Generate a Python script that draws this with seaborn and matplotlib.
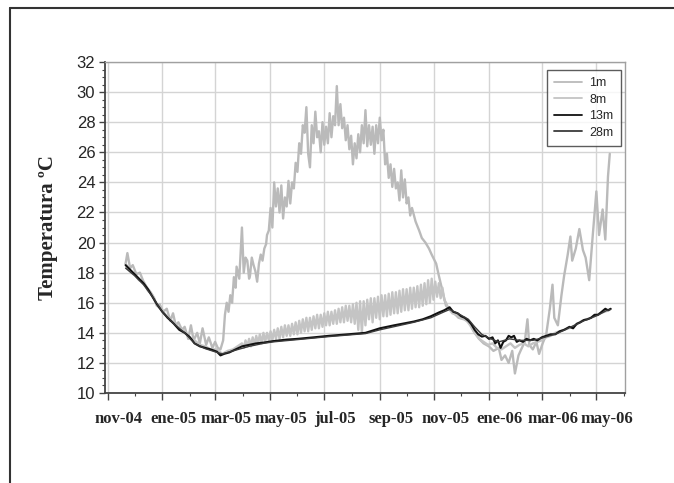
import pandas as pd
import matplotlib
matplotlib.use("Agg")
import matplotlib.pyplot as plt
import matplotlib.dates as mdates
from matplotlib.transforms import ScaledTranslation
from matplotlib.lines import Line2D
import seaborn as sns

# (dias desde 1-nov-2004, temperatura)
start = pd.Timestamp("2004-11-01")

s_1m = [(20, 18.6), (22, 19.3), (25, 18.3), (28, 18.5), (32, 17.9), (36, 18.0), (40, 17.4),
        (44, 17.0), (48, 16.7), (52, 16.3), (55, 15.8), (58, 15.9), (62, 15.4), (66, 15.6),
        (70, 14.8), (73, 15.3), (76, 14.5), (79, 14.7), (83, 14.2), (86, 14.4), (90, 13.6),
        (93, 14.5), (96, 13.5), (100, 14.0), (103, 13.3), (106, 14.3), (110, 13.2), (113, 13.7),
        (117, 13.0), (120, 13.4), (123, 13.0), (126, 12.9), (129, 13.5), (131, 15.2), (133, 16.0),
        (135, 15.4), (137, 16.5), (139, 16.0), (141, 17.7), (143, 17.0), (144, 18.4), (147, 17.6),
        (150, 21.0), (152, 18.0), (154, 19.0), (156, 18.8), (158, 17.6), (159, 17.8), (161, 19.0),
        (163, 18.5), (165, 18.1), (167, 17.4), (169, 18.6), (171, 19.2), (173, 18.8), (175, 19.6),
        (177, 19.9), (178, 20.5), (180, 20.8), (182, 22.3), (184, 21.0), (186, 24.0), (188, 22.4),
        (190, 23.6), (192, 22.0), (194, 23.8), (196, 21.6), (198, 23.0), (200, 22.4), (202, 24.1),
        (204, 22.6), (206, 24.0), (208, 23.6), (210, 25.3), (212, 24.7), (214, 26.6), (216, 25.9),
        (218, 27.8), (220, 27.3), (222, 29.0), (224, 25.9), (226, 25.0), (228, 27.8), (230, 26.6),
        (232, 28.7), (234, 27.0), (236, 27.4), (238, 26.0), (240, 28.0), (242, 26.5), (244, 27.7),
        (246, 26.6), (248, 28.6), (250, 27.0), (252, 28.4), (254, 27.8), (256, 30.4), (258, 27.8),
        (260, 29.2), (262, 27.6), (264, 28.3), (266, 26.8), (268, 27.8), (270, 26.2), (272, 27.1),
        (274, 25.2), (276, 26.6), (278, 25.6), (280, 27.2), (282, 26.0), (284, 27.8), (286, 26.6),
        (288, 28.8), (290, 26.4), (292, 27.8), (294, 26.5), (296, 27.7), (298, 25.9), (300, 27.8),
        (302, 26.6), (304, 28.3), (306, 26.8), (308, 27.5), (310, 25.2), (312, 25.9), (314, 24.3),
        (316, 25.2), (318, 23.7), (320, 24.9), (322, 23.6), (324, 24.0), (326, 22.8), (328, 24.8),
        (330, 23.0), (332, 24.2), (334, 22.6), (336, 23.0), (338, 21.8), (340, 22.3), (344, 21.4),
        (348, 20.8), (351, 20.3), (355, 20.0), (359, 19.6), (362, 19.2), (367, 18.6), (370, 17.8),
        (374, 16.8), (378, 15.8), (382, 15.6), (387, 15.3), (392, 15.0), (398, 14.9), (404, 14.7),
        (409, 14.1), (415, 13.6), (420, 13.3), (426, 13.1), (431, 12.8), (437, 13.0), (440, 12.2),
        (444, 12.5), (448, 12.0), (452, 12.8), (455, 11.3), (459, 12.5), (462, 12.9), (466, 13.4),
        (469, 14.9), (471, 13.2), (475, 12.9), (479, 13.4), (482, 12.6), (486, 13.3), (490, 13.9),
        (494, 15.6), (497, 17.2), (499, 15.0), (503, 14.5), (507, 16.5), (510, 17.8), (514, 19.2),
        (517, 20.4), (519, 18.8), (523, 19.6), (527, 20.9), (531, 19.5), (534, 19.0), (538, 17.5),
        (542, 20.5), (546, 23.4), (549, 20.5), (553, 22.2), (556, 20.2), (559, 24.4), (561, 25.9)]

s_8m = [(20, 18.6), (25, 18.1), (30, 17.9), (35, 17.5), (40, 17.4), (45, 16.8), (50, 16.5),
        (55, 15.8), (61, 15.5), (67, 15.0), (74, 14.7), (80, 14.3), (86, 14.1), (92, 13.6),
        (97, 13.5), (103, 13.2), (109, 13.1), (115, 12.9), (122, 12.9), (128, 12.6), (134, 12.8),
        (140, 12.9), (145, 13.1), (150, 13.3), (152, 13.0), (154, 13.5), (156, 13.1), (158, 13.6),
        (160, 13.1), (162, 13.7), (164, 13.2), (166, 13.8), (168, 13.3), (170, 13.9), (172, 13.3),
        (174, 14.0), (176, 13.4), (178, 14.0), (180, 13.5), (182, 14.1), (184, 13.5), (186, 14.2),
        (188, 13.6), (190, 14.3), (192, 13.6), (194, 14.4), (196, 13.7), (198, 14.5), (200, 13.8),
        (202, 14.5), (204, 13.8), (206, 14.6), (208, 13.9), (210, 14.7), (212, 13.9), (214, 14.8),
        (216, 14.0), (218, 14.9), (220, 14.1), (222, 15.0), (224, 14.1), (226, 15.0), (228, 14.2),
        (230, 15.1), (232, 14.3), (234, 15.2), (236, 14.3), (238, 15.2), (240, 14.4), (242, 15.3),
        (244, 14.5), (246, 15.4), (248, 14.5), (250, 15.4), (252, 14.6), (254, 15.5), (256, 14.6),
        (258, 15.6), (260, 14.7), (262, 15.7), (264, 14.7), (266, 15.8), (268, 14.8), (270, 15.8),
        (272, 14.7), (274, 15.9), (276, 14.6), (278, 16.0), (280, 14.2), (282, 16.1), (284, 14.0),
        (286, 16.1), (288, 14.5), (290, 16.2), (292, 14.9), (294, 16.3), (296, 14.7), (298, 16.3),
        (300, 15.0), (302, 16.4), (304, 14.9), (306, 16.5), (308, 15.1), (310, 16.5), (312, 15.1),
        (314, 16.6), (316, 15.2), (318, 16.7), (320, 15.3), (322, 16.7), (324, 15.3), (326, 16.8),
        (328, 15.4), (330, 16.9), (332, 15.5), (334, 16.9), (336, 15.5), (338, 17.0), (340, 15.6),
        (342, 17.0), (344, 15.7), (346, 17.1), (348, 15.7), (350, 17.2), (352, 15.8), (354, 17.3),
        (356, 15.9), (358, 17.5), (360, 16.0), (362, 17.6), (364, 16.2), (366, 17.4), (368, 16.4),
        (370, 17.3), (372, 16.3), (374, 17.0), (376, 16.2), (378, 16.0), (380, 15.7), (385, 15.3),
        (390, 15.2), (395, 15.0), (400, 14.9), (405, 14.5), (410, 14.0), (415, 13.6), (420, 13.4),
        (425, 13.2), (430, 13.3), (435, 13.0), (440, 12.9), (445, 13.1), (450, 13.3), (455, 13.0),
        (460, 13.2), (465, 13.3), (470, 13.1), (475, 13.3), (480, 13.4), (485, 13.5), (490, 13.7),
        (495, 13.8), (500, 14.0), (510, 14.2), (520, 14.4), (530, 14.8), (540, 15.0), (550, 15.3),
        (560, 15.5)]

s_13m = [(20, 18.5), (25, 18.2), (30, 17.9), (35, 17.6), (40, 17.3), (45, 16.9), (50, 16.4),
         (55, 15.9), (61, 15.4), (67, 15.0), (74, 14.6), (80, 14.2), (86, 14.0), (92, 13.7),
         (97, 13.3), (103, 13.1), (109, 13.0), (115, 12.9), (122, 12.75), (126, 12.5), (130, 12.6),
         (136, 12.7), (143, 12.9), (150, 13.1), (158, 13.2), (166, 13.3), (174, 13.35), (185, 13.45),
         (200, 13.55), (212, 13.6), (230, 13.7), (247, 13.8), (268, 13.9), (288, 14.0), (304, 14.3),
         (320, 14.5), (342, 14.75), (352, 14.9), (361, 15.1), (370, 15.35), (376, 15.5), (382, 15.7),
         (386, 15.4), (391, 15.3), (395, 15.1), (399, 15.0), (403, 14.8), (406, 14.6), (410, 14.2),
         (414, 13.9), (418, 13.75), (422, 13.8), (426, 13.6), (430, 13.7), (433, 13.3), (436, 13.5),
         (439, 13.0), (442, 13.4), (445, 13.5), (448, 13.8), (451, 13.7), (454, 13.8), (457, 13.4),
         (460, 13.5), (464, 13.4), (468, 13.6), (472, 13.5), (476, 13.6), (480, 13.5), (485, 13.7),
         (490, 13.8), (495, 13.9), (500, 13.9), (505, 14.1), (510, 14.2), (516, 14.4), (520, 14.3),
         (524, 14.6), (528, 14.7), (532, 14.85), (536, 14.9), (540, 15.0), (544, 15.2), (548, 15.2),
         (552, 15.4), (556, 15.6), (559, 15.5), (562, 15.6)]

s_28m = [(20, 18.3), (30, 17.8), (40, 17.2), (50, 16.4), (61, 15.4), (74, 14.6), (86, 14.0),
         (97, 13.3), (109, 12.95), (122, 12.7), (128, 12.6), (143, 12.85), (158, 13.1), (174, 13.3),
         (185, 13.4), (212, 13.55), (247, 13.75), (288, 13.95), (304, 14.2), (342, 14.7), (361, 15.0),
         (376, 15.4), (382, 15.55), (391, 15.3), (403, 14.9), (410, 14.4), (418, 13.9), (428, 13.6),
         (437, 13.4), (449, 13.6), (460, 13.5), (475, 13.5), (485, 13.65), (502, 13.95), (516, 14.35),
         (532, 14.8), (547, 15.15), (558, 15.5), (562, 15.55)]

tick_dates = ["2004-11-01", "2005-01-01", "2005-03-01", "2005-05-01", "2005-07-01",
              "2005-09-01", "2005-11-01", "2006-01-01", "2006-03-01", "2006-05-01"]
tick_labels = ["nov-04", "ene-05", "mar-05", "may-05", "jul-05", "sep-05", "nov-05",
               "ene-06", "mar-06", "may-06"]

series = [("1m", s_1m, "#bababa", 1.7),
          ("8m", s_8m, "#c4c4c4", 1.7),
          ("13m", s_13m, "#111111", 1.5),
          ("28m", s_28m, "#3a3a3a", 1.0)]

sns.set_style("white")
plt.rcParams["font.family"] = ["Liberation Sans", "DejaVu Sans"]

fig = plt.figure(figsize=(6.74, 4.83), dpi=100)
ax = fig.add_axes([0.1558, 0.1863, 0.7715, 0.6853])

for name, pts, col, lw in series:
    days = [p[0] for p in pts]
    temps = [p[1] for p in pts]
    x = start + pd.to_timedelta(days, unit="D")
    sns.lineplot(x=x, y=temps, ax=ax, color=col, linewidth=lw, label=name,
                 estimator=None, sort=False)

ax.set_xlim(pd.Timestamp("2004-10-29"), pd.Timestamp("2006-06-02"))
ax.set_ylim(10, 32)
ax.set_yticks(range(10, 33, 2))
ax.set_yticks([v / 2 for v in range(20, 65)], minor=True)
ax.set_xticks(pd.to_datetime(tick_dates))
ax.set_xticklabels(tick_labels, fontfamily="Liberation Serif", fontweight="bold", fontsize=12)
ax.xaxis.set_minor_locator(mdates.MonthLocator())
ax.tick_params(axis="y", which="major", labelsize=12, length=4, width=1, color="#444", pad=3,
               direction="out", left=True)
ax.tick_params(axis="y", which="minor", length=2.5, width=0.8, color="#444", left=True)
ax.tick_params(axis="x", which="major", length=5, width=1, color="#444", pad=8,
               direction="out", bottom=True)
ax.tick_params(axis="x", which="minor", length=2, width=0.8, color="#444", bottom=True)

shift = ScaledTranslation(0.11, 0, fig.dpi_scale_trans)
for lab in ax.get_xticklabels():
    lab.set_transform(lab.get_transform() + shift)

ax.grid(True, which="major", color="#d4d4d4", linewidth=1)
ax.set_axisbelow(True)
for side in ["top", "right"]:
    ax.spines[side].set_color("#a0a0a0")
    ax.spines[side].set_linewidth(1)
for side in ["left", "bottom"]:
    ax.spines[side].set_color("#444444")
    ax.spines[side].set_linewidth(1.3)

ax.set_xlabel("")
ax.set_ylabel("Temperatura ºC", fontfamily="Liberation Serif", fontweight="bold",
              fontsize=15, labelpad=13)

leg = ax.legend(loc="upper right", bbox_to_anchor=(0.992, 0.976), frameon=True,
                fancybox=False, edgecolor="#333333", fontsize=9, handlelength=2.2,
                labelspacing=0.35, borderpad=0.6, handletextpad=0.6, borderaxespad=0)
leg.get_frame().set_linewidth(1)
for h in leg.get_lines():
    h.set_linewidth(1.3)

# marco exterior (solo izquierda y arriba visibles)
fig.add_artist(Line2D([10 / 674, 10 / 674], [0, 1 - 8 / 483], color="#333333", linewidth=1.5,
                      transform=fig.transFigure))
fig.add_artist(Line2D([10 / 674, 1], [1 - 8 / 483, 1 - 8 / 483], color="#333333", linewidth=1.5,
                      transform=fig.transFigure))

fig.savefig("out.png", dpi=100)
